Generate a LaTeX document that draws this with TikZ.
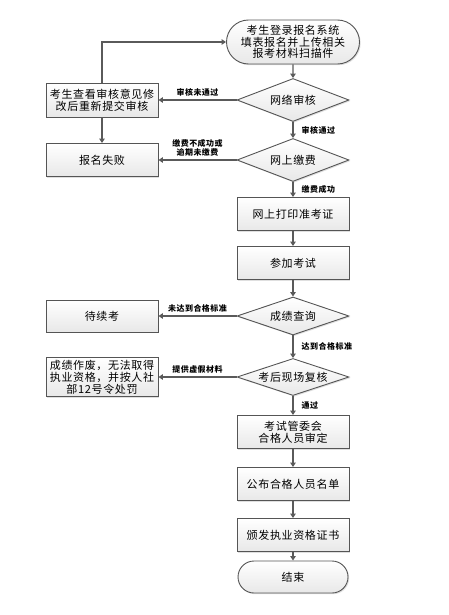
\documentclass[tikz,border=0pt]{standalone}
\usepackage{fontspec}
\newfontfamily\cjk[LetterSpace=6]{Noto Sans CJK SC}
\usetikzlibrary{shapes.geometric, shapes.misc, shadows, arrows.meta}

\definecolor{linegray}{HTML}{5A5A5A}
\definecolor{edgegray}{HTML}{555555}

\tikzset{
  shade/.style={top color=white, bottom color=gray!18, draw=edgegray, line width=0.9pt,
    drop shadow={opacity=0.25, shadow xshift=1.2pt, shadow yshift=-1.2pt}},
  box/.style={shade, rectangle, minimum width=112pt, minimum height=33pt, inner sep=1pt,
    align=center, font=\cjk\fontsize{11}{12}\selectfont},
  test/.style={shade, diamond, aspect=2.6, minimum width=112pt, inner sep=0pt,
    align=center, font=\cjk\fontsize{11}{12}\selectfont},
  term/.style={shade, rounded rectangle, minimum width=112pt, inner sep=1pt,
    align=center, font=\cjk\fontsize{11}{11.5}\selectfont},
  lbl/.style={font=\cjk\fontsize{8}{9}\selectfont\bfseries, inner sep=2pt, align=center},
  flow/.style={draw=linegray, line width=1.3pt}
}

\begin{document}
\begin{tikzpicture}[x=1pt, y=-1pt, >={Triangle[length=4.5pt,width=5.5pt]}]
    \useasboundingbox (0,0) rectangle (448,615);

    % main column
    \node[term, minimum width=135pt, minimum height=44pt] at (293,42) (start) {考生登录报名系统\\填表报名并上传相关\\报考材料扫描件};
    \node[test, minimum height=43pt] at (293,100) (check) {网络审核};
    \node[test, minimum height=43pt] at (293,160) (pay) {网上缴费};
    \node[box] at (293,214) (ticket) {网上打印准考证};
    \node[box] at (293,263) (exam) {参加考试};
    \node[test, minimum height=38pt] at (293,316) (score) {成绩查询};
    \node[test, minimum height=37pt] at (293,377) (recheck) {考后现场复核};
    \node[box] at (293,432) (approve) {考试管委会\\合格人员审定};
    \node[box] at (293,484) (publish) {公布合格人员名单};
    \node[box] at (293,535) (issue) {颁发执业资格证书};
    \node[term, minimum height=32pt] at (293,577) (finish) {结束};

    % side column
    \node[box, minimum height=34pt] at (102,100) (revise) {考生查看审核意见修\\改后重新提交审核};
    \node[box] at (102,160) (fail) {报名失败};
    \node[box, minimum height=32pt] at (102,316) (wait) {待续考};
    \node[box, minimum height=39pt] at (102,377) (void) {成绩作废，无法取得\\执业资格，并按人社\\部12号令处罚};

    \draw[->, flow] (start) -- (check);
    \draw[->, flow] (check) -- (revise) node[lbl, midway, above=1pt] {审核未通过};
    \draw[->, flow] (check) -- (pay) node[lbl, midway, right=6pt] {审核通过};
    \draw[->, flow] (revise) -- (fail);
    \draw[->, flow] (revise.north) |- (start.west);
    \draw[->, flow] (pay) -- (fail) node[lbl, midway, above=1pt] {缴费不成功或\\逾期未缴费};
    \draw[->, flow] (pay) -- (ticket) node[lbl, midway, right=6pt] {缴费成功};
    \draw[->, flow] (ticket) -- (exam);
    \draw[->, flow] (exam) -- (score);
    \draw[->, flow] (score) -- (wait) node[lbl, midway, above=1pt] {未达到合格标准};
    \draw[->, flow] (score) -- (recheck) node[lbl, midway, right=6pt] {达到合格标准};
    \draw[->, flow] (recheck) -- (void) node[lbl, midway, above=1pt] {提供虚假材料};
    \draw[->, flow] (recheck) -- (approve) node[lbl, midway, right=6pt] {通过};
    \draw[->, flow] (approve) -- (publish);
    \draw[->, flow] (publish) -- (issue);
    \draw[->, flow] (issue) -- (finish);
\end{tikzpicture}
\end{document}
